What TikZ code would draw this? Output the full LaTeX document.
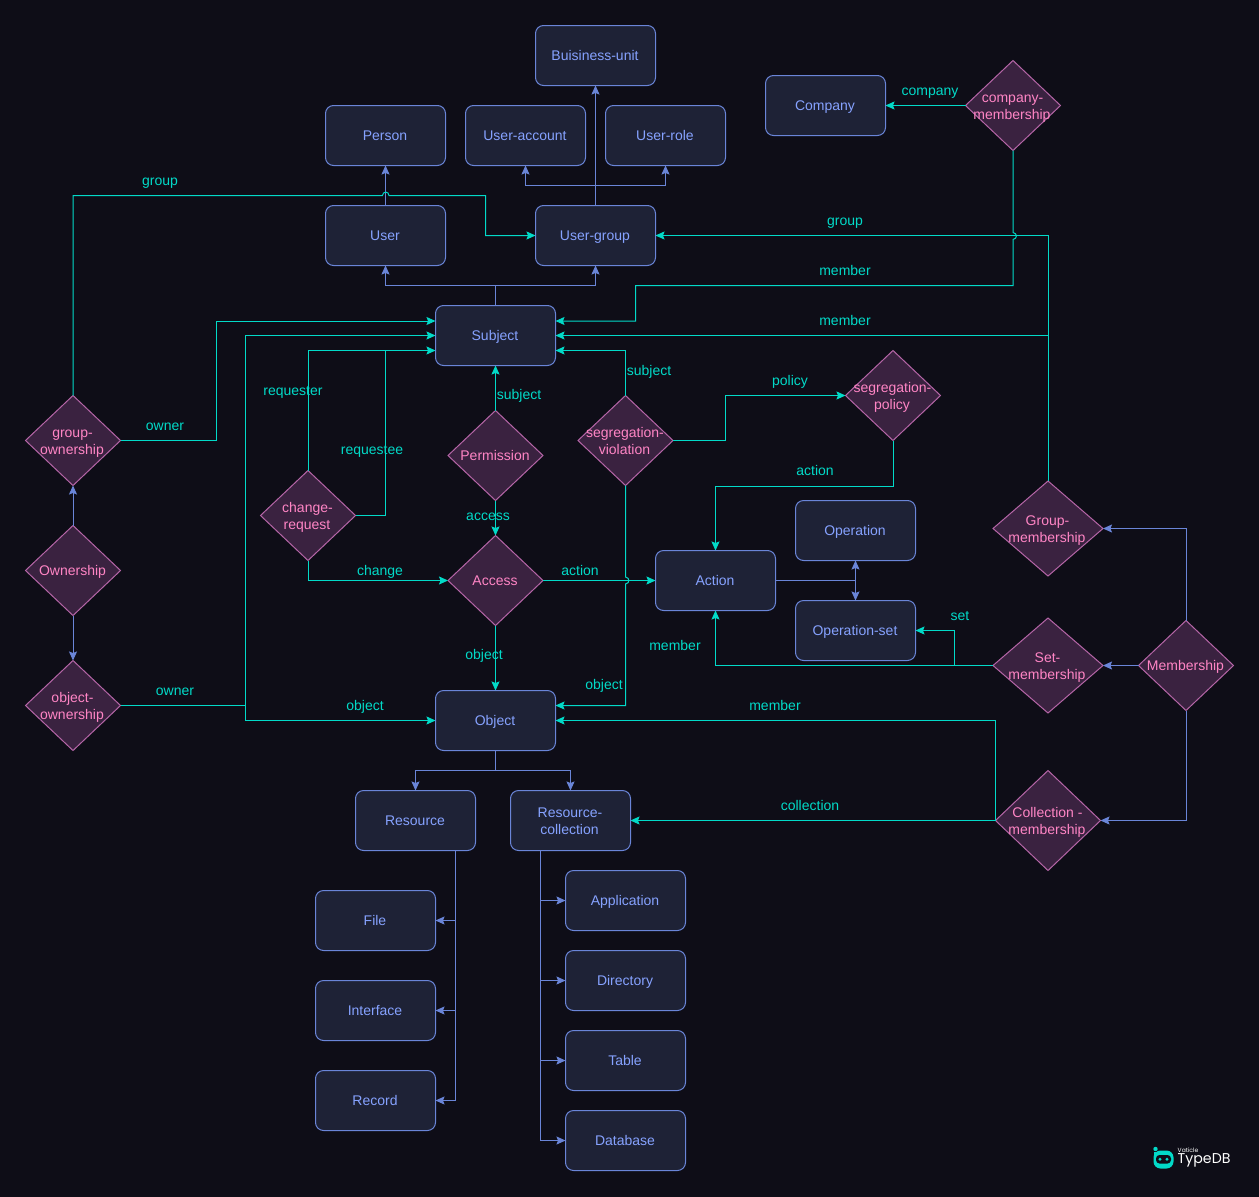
\documentclass[tikz,border=0pt]{standalone}
\usepackage{fontspec}
\setmainfont{Liberation Sans}
\newfontfamily\logofont{Poppins}
\usetikzlibrary{shapes.geometric,arrows.meta}
\definecolor{bgdark}{HTML}{0E0D17}
\definecolor{boxfill}{HTML}{1E2236}
\definecolor{boxline}{HTML}{6A85D8}
\definecolor{boxtext}{HTML}{86A2FF}
\definecolor{relfill}{HTML}{3A2240}
\definecolor{relline}{HTML}{B565A7}
\definecolor{reltext}{HTML}{FF85C5}
\definecolor{roleline}{HTML}{02DAC8}
\newcommand{\linestrut}{\rule[-3pt]{0pt}{16pt}}
\newcommand{\tworow}[2]{\rule{0pt}{14.5pt}#1\\\hspace*{-1pt}#2}
\tikzset{
 rowtext/.style={font=\fontsize{14}{17}\selectfont,align=center,inner sep=0pt,execute at begin node=\linestrut\hspace*{-1pt},execute at end node=\linestrut},
 entity/.style={rowtext,draw=boxline,fill=boxfill,text=boxtext,rounded corners=8pt,minimum width=120pt,minimum height=60pt,outer sep=0pt,line width=1pt},
 relation/.style={diamond,draw=relline,fill=relfill,inner sep=0pt,outer sep=0pt,line width=1pt},
 reltitle/.style={rowtext,text=reltext},
 roleedge/.style={draw=roleline,line width=1pt,-{Stealth[length=9pt,width=8pt,inset=1.5pt]}},
 rolejoin/.style={draw=roleline,line width=1pt},
 subedge/.style={draw=boxline,line width=1pt,-{Stealth[length=9pt,width=8pt,inset=1.5pt]}},
 rolename/.style={rowtext,text=roleline}
}
\begin{document}
\begin{tikzpicture}[x=1pt,y=-1pt,shift={(0.5,0.5)}]
 \fill[bgdark] (-0.5,-0.5) rectangle (1258.5,1196.5);
 \useasboundingbox (-0.5,-0.5) rectangle (1258.5,1196.5);
 \foreach \nm/\x/\y/\j in {BuisinessUnit/595/55/Buisiness-unit,Person/385/135/Person,UserAccount/525/135/User-account,UserRole/665/135/User-role,Company/825/105/Company,User/385/235/User,UserGroup/595/235/User-group,Subject/495/335/Subject,Action/715/580/Action,Operation/855/530/Operation,OperationSet/855/630/Operation-set,Object/495/720/Object,Resource/415/820/Resource,ResourceCollection/570/820/{\tworow{Resource-}{collection}},File/375/920/File,Interface/375/1010/Interface,Record/375/1100/Record,Application/625/900/Application,Directory/625/980/Directory,Table/625/1060/Table,Database/625/1140/Database}
  {\node[entity] (\nm) at (\x,\y) {\j};}
 \foreach \nm/\x/\y/\w/\h/\j in {CompanyMembership/1012.5/105/95/90/{\tworow{company-}{membership}},GroupOwnership/72.5/440/95/90/{\tworow{group-}{ownership}},Ownership/72.5/570/95/90/Ownership,ObjectOwnership/72.5/705/95/90/{\tworow{object-}{ownership}},ChangeRequest/307.5/515/95/90/{\tworow{change-}{request}},Permission/495/455/95/90/Permission,SegregationViolation/625/440/95/90/{\tworow{segregation-}{violation}},SegregationPolicy/892.5/395/95/90/{\tworow{segregation-}{policy}},Access/495/580/95/90/Access,GroupMembership/1047.5/528/110/95/{\tworow{Group-}{membership}},SetMembership/1047.5/665/110/95/{\tworow{Set-}{membership}},Membership/1185.5/665/95/90/Membership,CollectionMembership/1047.5/820/105/100/{\tworow{Collection -}{membership}}}
  {\node[relation,minimum width=\w pt,minimum height=\h pt,label={[reltitle]center:\j}] (\nm) at (\x,\y) {};}
 %subtype lines
 \draw[subedge] (User.north) -- (Person.south);
 \draw[subedge] (UserGroup.north) -- (BuisinessUnit.south);
 \draw[subedge] (595,185) -| (UserAccount.south);
 \draw[subedge] (595,185) -| (UserRole.south);
 \draw[subedge] (Subject.north) -- (495,285) -| (User.south);
 \draw[subedge] (495,285) -| (UserGroup.south);
 \draw[subedge] (Action.east) -| (Operation.south);
 \draw[subedge] (855,580) -- (OperationSet.north);
 \draw[subedge] (Ownership.north) -- (GroupOwnership.south);
 \draw[subedge] (Ownership.south) -- (ObjectOwnership.north);
 \draw[subedge] (Object.south) -- (495,770) -| (Resource.north);
 \draw[subedge] (495,770) -| (ResourceCollection.north);
 \foreach \k in {File,Interface,Record}
  {\draw[subedge] ([xshift=40pt]Resource.south) |- (\k.east);}
 \foreach \k in {Application,Directory,Table,Database}
  {\draw[subedge] ([xshift=-30pt]ResourceCollection.south) |- (\k.west);}
 \draw[subedge] (Membership.west) -- (SetMembership.east);
 \draw[subedge] (Membership.north) |- (GroupMembership.east);
 \draw[subedge] (Membership.south) |- (CollectionMembership.east);
 %role lines
 \draw[roleedge] (GroupOwnership.north) |- (382,195) .. controls (382,190.5) and (388.5,190.5) .. (388.5,195) -- (485,195) |- (UserGroup.west);
 \draw[roleedge] (GroupOwnership.east) -- (215.5,440) |- ([yshift=14.5pt]Subject.west);
 \draw[roleedge] (ObjectOwnership.east) -- (245,705) |- (Subject.west);
 \draw[roleedge] (245,705) |- (Object.west);
 \draw[roleedge] (ChangeRequest.north) |- ([yshift=-15pt]Subject.west);
 \draw[rolejoin] (ChangeRequest.east) -- (385,515) -- (385,350);
 \draw[roleedge] (ChangeRequest.south) |- (Access.west);
 \draw[roleedge] (Permission.north) -- (Subject.south);
 \draw[roleedge] (Permission.south) -- (Access.north);
 \draw[roleedge] (Access.east) -- (Action.west);
 \draw[roleedge] (Access.south) -- (Object.north);
 \draw[roleedge] (SegregationViolation.north) |- ([yshift=-15pt]Subject.east);
 \draw[roleedge] (SegregationViolation.east) -- (725,440) |- (SegregationPolicy.west);
 \draw[roleedge] (SegregationViolation.south) -- (625,576.5) .. controls (629.5,577) and (629.5,583) .. (625,583.5) |- ([yshift=15pt]Object.east);
 \draw[roleedge] (SegregationPolicy.south) |- (715,486) -- (Action.north);
 \draw[roleedge] (CompanyMembership.west) -- (Company.east);
 \draw[roleedge] (CompanyMembership.south) -- (1012.5,232) .. controls (1017,232.5) and (1017,238.5) .. (1012.5,239) -- (1012.5,285) -- (635,285) |- ([yshift=14.5pt]Subject.east);
 \draw[roleedge] (GroupMembership.north) |- (UserGroup.east);
 \draw[roleedge] (1047.5,335) -- (Subject.east);
 \draw[roleedge] (SetMembership.west) -| (Action.south);
 \draw[roleedge] (954,665) |- (OperationSet.east);
 \draw[roleedge] (CollectionMembership.west) -- (ResourceCollection.east);
 \draw[roleedge] (995,820) |- (Object.east);
 \foreach \j/\x/\y [count=\xi] in {group/160/180,owner/165/425,owner/175/690,object/365/705,requester/293/390,requestee/372/449,change/380/570,subject/519/394,access/488/515,action/580/570,object/484/654,subject/649/370,policy/790/380,object/604/684,action/815/470,company/930/90,member/845/270,group/845/220,member/845/320,member/675/645,set/960/615,collection/810/805,member/775/705}
  {\node[rolename] (role\xi) at (\x,\y) {\j};}
 %logo
 \fill[roleline] (1155,1148.5) circle (2.2pt);
 \fill[roleline] (1153.5,1151) rectangle (1155.5,1155);
 \fill[roleline,rounded corners=7pt] (1153,1150) rectangle (1173,1168);
 \fill[bgdark,rounded corners=3.5pt] (1155.5,1154.5) rectangle (1170.5,1163);
 \fill[roleline] (1159.5,1158.7) circle (1.6pt);
 \fill[roleline] (1166.5,1158.7) circle (1.6pt);
 \node[text=white,font=\logofont\fontsize{6}{7}\selectfont,anchor=west,inner sep=0pt] (logosmall) at (1177,1149.5) {Vaticle};
 \node[text=white,font=\logofont\fontsize{14.2}{18}\selectfont,anchor=west,inner sep=0pt] (logomain) at (1177,1160) {TypeDB};
\end{tikzpicture}
\end{document}
